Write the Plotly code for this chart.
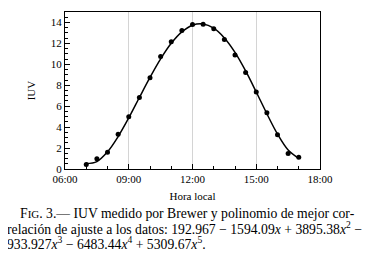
import plotly.graph_objects as go

# Brewer measurements (local time, IUV)
obs_times = ["07:00", "07:30", "08:00", "08:30", "09:00", "09:30", "10:00", "10:30",
             "11:00", "11:30", "12:00", "12:30", "13:00", "13:30", "14:00", "14:30",
             "15:00", "15:30", "16:00", "16:30", "17:00"]
obs_iuv = [0.42, 0.99, 1.59, 3.31, 5.00, 6.84, 8.72, 10.75, 12.15, 13.23, 13.81,
           13.84, 13.40, 12.38, 10.90, 9.23, 7.35, 5.38, 3.28, 1.47, 1.12]

# Fitted polynomial curve
fit_times = obs_times
fit_iuv = [0.52, 0.71, 1.64, 3.10, 4.88, 6.83, 8.75, 10.52, 12.01, 13.10, 13.74,
           13.86, 13.45, 12.52, 11.14, 9.37, 7.36, 5.28, 3.34, 1.82, 1.02]

x_tick_labels = ["06:00", "09:00", "12:00", "15:00", "18:00"]
day = "2020-01-01 "

caption_lines = [
    "F<span style='font-size:11px'>IG</span>. 3.— IUV medido por Brewer y polinomio de mejor cor-",
    "relación de ajuste a los datos: 192.967 − 1594.09<i>x</i> + 3895.38<i>x</i><sup>2</sup> −",
    "933.927<i>x</i><sup>3</sup> − 6483.44<i>x</i><sup>4</sup> + 5309.67<i>x</i><sup>5</sup>.",
]

fig = go.Figure()
fig.add_trace(go.Scatter(
    x=[day + t for t in fit_times], y=fit_iuv, mode="lines",
    line=dict(color="black", width=1.5, shape="spline", smoothing=1.0),
    hoverinfo="skip", showlegend=False))
fig.add_trace(go.Scatter(
    x=[day + t for t in obs_times], y=obs_iuv, mode="markers",
    marker=dict(color="black", size=5), showlegend=False))

# page body has an 8px margin; compensate so the plot lands where the reference has it
OFF = 8
L, T = 65 - OFF, 12 - OFF
pw, ph = 255, 157
W, H = 375 - OFF, 254 - OFF
R = W - L - pw
B = H - T - ph

def px(xp):
    return (xp - OFF - L) / pw

def py(yp):
    return (H - B - (yp - OFF)) / ph

serif = "Liberation Serif, DejaVu Serif, serif"

fig.update_layout(
    width=W, height=H,
    margin=dict(l=L, r=R, t=T, b=B, autoexpand=False),
    paper_bgcolor="white", plot_bgcolor="white",
    font=dict(family=serif, size=11, color="black"),
    xaxis=dict(
        type="date",
        range=[day + x_tick_labels[0], day + x_tick_labels[-1]],
        tick0=day + x_tick_labels[0], dtick=3 * 3600 * 1000,
        tickformat="%H:%M",
        ticks="inside", ticklen=5, tickcolor="black", tickwidth=1,
        minor=dict(dtick=3600 * 1000, ticks="inside", ticklen=3, tickcolor="black", showgrid=False),
        showgrid=True, gridcolor="#d4d4d4", gridwidth=1,
        showline=True, linecolor="black", linewidth=1, mirror=True,
        zeroline=False,
        title=dict(text="Hora local", font=dict(size=11), standoff=8),
        tickfont=dict(size=11),
    ),
    yaxis=dict(
        range=[0, 15],
        tick0=0, dtick=2,
        ticks="inside", ticklen=5, tickcolor="black", tickwidth=1,
        minor=dict(dtick=0.5, ticks="inside", ticklen=3, tickcolor="black", showgrid=False),
        showgrid=False,
        showline=True, linecolor="black", linewidth=1, mirror=True,
        zeroline=False,
        title=dict(text="IUV", font=dict(size=11), standoff=12),
        tickfont=dict(size=11),
    ),
)

cap_pos = [(18, 213), (5, 228), (5, 243)]
for text, (xp, yp) in zip(caption_lines, cap_pos):
    fig.add_annotation(
        text=text, xref="paper", yref="paper", x=px(xp), y=py(yp),
        xanchor="left", yanchor="middle", showarrow=False,
        font=dict(family=serif, size=13.7, color="black"))

fig.write_html("out.html")
